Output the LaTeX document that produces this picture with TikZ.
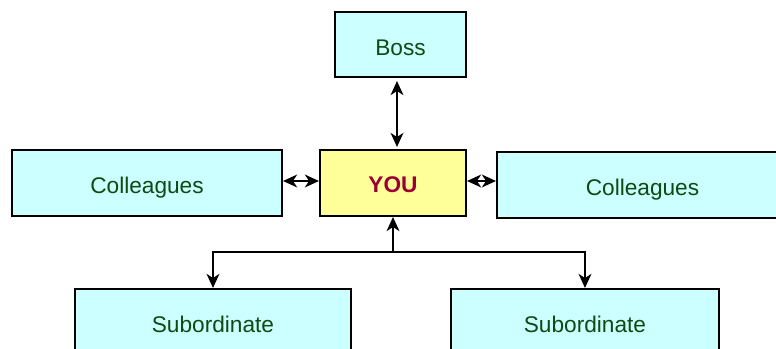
\documentclass[tikz,border=0pt]{standalone}
\usepackage{fontspec}
\setmainfont{Liberation Sans}
\usetikzlibrary{arrows.meta}
\definecolor{boxcyan}{HTML}{CCFFFF}
\definecolor{boxyellow}{HTML}{FFFF99}
\definecolor{txtgreen}{HTML}{0E4A12}
\definecolor{youred}{HTML}{990033}
\tikzset{
  role/.style={draw=black, line width=1.5pt, fill=boxcyan, text=txtgreen,
    font=\fontsize{17}{19}\selectfont, inner sep=0pt, anchor=center,
    text height=16pt, text depth=0pt},
  me/.style={role, fill=boxyellow, text=youred, font=\fontsize{17}{19}\selectfont\bfseries,
    text height=15pt},
  link/.style={line width=2.2pt, draw=black, arrows={-Stealth[length=10.5pt,width=9.5pt,inset=3pt]}},
  dlink/.style={line width=2.2pt, draw=black,
    arrows={Stealth[length=10.5pt,width=9.5pt,inset=3pt]-Stealth[length=10.5pt,width=9.5pt,inset=3pt]}}
}
\begin{document}
\begin{tikzpicture}[x=0.75pt, y=-0.75pt]
  \useasboundingbox (0,0) rectangle (776,349);
  \clip (0,0) rectangle (776,349);
  % boxes
  \node[role, minimum width=131*0.75pt, minimum height=65*0.75pt] (boss) at (400.5,44.5) {Boss};
  \node[me, minimum width=146*0.75pt, minimum height=66*0.75pt] (you) at (393,183) {YOU};
  \node[role, minimum width=270*0.75pt, minimum height=66*0.75pt] (colL) at (147,183) {Colleagues};
  \node[role, minimum width=291*0.75pt, minimum height=66*0.75pt] (colR) at (642.5,185) {Colleagues};
  \node[role, minimum width=276*0.75pt, minimum height=66*0.75pt] (subL) at (213,322) {Subordinate};
  \node[role, minimum width=268*0.75pt, minimum height=66*0.75pt] (subR) at (585,322) {Subordinate};
  % connectors
  \draw[dlink] ([yshift=-3*0.75pt]boss.south -| 397,0) -- ([yshift=2*0.75pt]you.north -| 397,0);
  \draw[dlink] (colL.east |- 0,181) -- (you.west |- 0,181);
  \draw[dlink] (you.east |- 0,181) -- (colR.west |- 0,181);
  \coordinate (j) at (393,252);
  \draw[link] (j) -- (you.south -| j);
  \draw[link] (j) -| (subL.north);
  \draw[link] (j) -| (subR.north);
\end{tikzpicture}
\end{document}
